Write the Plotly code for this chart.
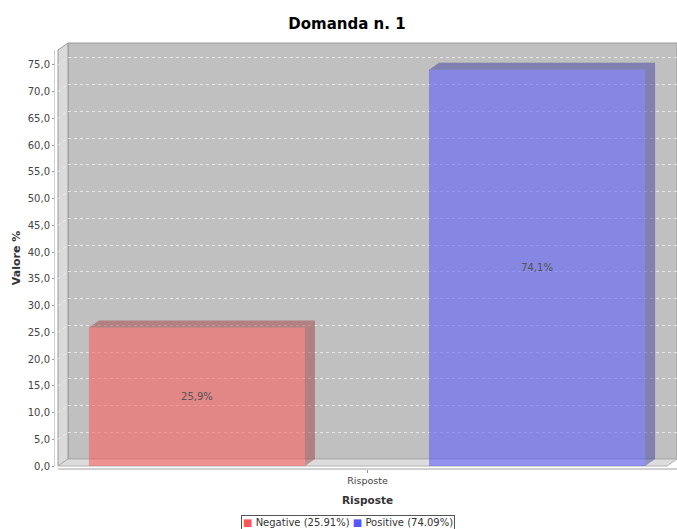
import plotly.graph_objects as go

# ---------------- data ----------------
categories = ["Risposte"]
series_names = ["Negative", "Positive"]
series_values = [25.91, 74.09]
y_tick_values = [0, 5, 10, 15, 20, 25, 30, 35, 40, 45, 50, 55, 60, 65, 70, 75]

# ---------------- styling / geometry ----------------
W, H = 677, 529
base_colors = ["#ff5555", "#5555ff"]
front_colors = ["rgba(255,85,85,0.55)", "rgba(85,85,255,0.55)"]
face_colors = ["rgba(160,50,50,0.45)", "rgba(50,50,160,0.45)"]
bar_offsets = [-0.45, 0.0994]
bar_width = 0.349
Y_MAX = 77.8
GRID = "rgba(255,255,255,0.6)"

FRONT_L, FRONT_TOP, FRONT_BOT = 58, 50, 466
DX, DY = 10, 7  # 3D depth in pixels


def pxx(p):
    return p / W


def pxy(p):
    return 1 - p / H


dx_val = DX / (W - FRONT_L)          # x range spans 1 unit over front width
dy_val = DY * Y_MAX / (FRONT_BOT - FRONT_TOP)

FONT = "DejaVu Sans"
fig = go.Figure()

# invisible trace to create back (wall) subplot
fig.add_trace(go.Scatter(x=[None], y=[None], xaxis="x", yaxis="y",
                         showlegend=False, hoverinfo="skip"))

# front faces of bars
for i, (name, val) in enumerate(zip(series_names, series_values)):
    fig.add_trace(go.Bar(
        x=[0], y=[val], xaxis="x2", yaxis="y2",
        width=[bar_width], offset=[bar_offsets[i]],
        marker=dict(color=front_colors[i], line=dict(width=0)),
        texttemplate="%{y:.1f}%", textposition="inside",
        insidetextanchor="middle", textangle=0, constraintext="none",
        textfont=dict(family=FONT, size=10, color="#555555"),
        showlegend=False, hoverinfo="skip", name=name,
    ))

# 3D top and side faces
for i, val in enumerate(series_values):
    xl = bar_offsets[i]
    xr = xl + bar_width
    side_x = [xr, xr, xr + dx_val, xr + dx_val, xr]
    side_y = [0, val, val + dy_val, dy_val, 0]
    top_x = [xl, xr, xr + dx_val, xl + dx_val, xl]
    top_y = [val, val, val + dy_val, val + dy_val, val]
    for fx, fy in ((side_x, side_y), (top_x, top_y)):
        fig.add_trace(go.Scatter(
            x=fx, y=fy, xaxis="x2", yaxis="y2", mode="lines",
            fill="toself", fillcolor=face_colors[i],
            line=dict(width=0), showlegend=False, hoverinfo="skip",
        ))

# legend (boxed text built from the series)
legend_parts = []
for i, (name, val) in enumerate(zip(series_names, series_values)):
    legend_parts.append(
        f"<span style='color:{base_colors[i]}'>■</span> {name} ({val:.2f}%)")
legend_text = " ".join(legend_parts)

# walls
shapes = []
# back wall
shapes.append(dict(type="rect", xref="paper", yref="paper",
                   x0=pxx(FRONT_L + DX), x1=1.0,
                   y0=pxy(FRONT_BOT - DY), y1=pxy(FRONT_TOP - DY),
                   fillcolor="#c0c0c0", line=dict(color="#9a9a9a", width=1),
                   layer="below"))
# left wall
shapes.append(dict(type="path", xref="paper", yref="paper",
                   path=(f"M {pxx(FRONT_L)},{pxy(FRONT_BOT)} "
                         f"L {pxx(FRONT_L)},{pxy(FRONT_TOP)} "
                         f"L {pxx(FRONT_L + DX)},{pxy(FRONT_TOP - DY)} "
                         f"L {pxx(FRONT_L + DX)},{pxy(FRONT_BOT - DY)} Z"),
                   fillcolor="#dadada", line=dict(color="#9a9a9a", width=1),
                   layer="below"))
# floor
shapes.append(dict(type="path", xref="paper", yref="paper",
                   path=(f"M {pxx(FRONT_L)},{pxy(FRONT_BOT)} "
                         f"L {pxx(W - DX)},{pxy(FRONT_BOT)} "
                         f"L {pxx(W)},{pxy(FRONT_BOT - DY)} "
                         f"L {pxx(FRONT_L + DX)},{pxy(FRONT_BOT - DY)} Z"),
                   fillcolor="#dcdcdc", line=dict(color="#b0b0b0", width=1),
                   layer="below"))
# gridlines on left wall
for v in y_tick_values[1:]:
    shapes.append(dict(type="line", xref="paper", yref="y2",
                       x0=pxx(FRONT_L), y0=v, x1=pxx(FRONT_L + DX), y1=v + dy_val,
                       line=dict(color=GRID, width=1, dash="dot"),
                       layer="below"))

fig.update_layout(
    width=W, height=H,
    margin=dict(l=0, r=0, t=0, b=0, autoexpand=False),
    paper_bgcolor="white", plot_bgcolor="rgba(0,0,0,0)",
    separators=",.",
    barmode="overlay",
    showlegend=False,
    font=dict(family=FONT, color="#444444"),
    title=dict(text="Domanda n. 1", x=pxx(347), xanchor="center",
               y=pxy(24), yanchor="middle", automargin=False,
               font=dict(family=FONT, size=15, color="#000000", weight="bold")),
    shapes=shapes,
    annotations=[dict(text=legend_text, xref="paper", yref="paper",
                      x=pxx(348), y=pxy(522), xanchor="center", yanchor="middle",
                      showarrow=False, bgcolor="white",
                      bordercolor="#555555", borderwidth=1, borderpad=1,
                      font=dict(family=FONT, size=10, color="#333333"))],
    xaxis=dict(domain=[pxx(FRONT_L + DX), 1], range=[-0.5, 0.5], anchor="y",
               visible=False, showgrid=False, zeroline=False, fixedrange=True,
               automargin=False),
    yaxis=dict(domain=[pxy(FRONT_BOT - DY), pxy(FRONT_TOP - DY)],
               range=[0, Y_MAX], anchor="x", tickvals=y_tick_values,
               showgrid=True, gridcolor=GRID, griddash="dot",
               gridwidth=1, showticklabels=False, ticks="", zeroline=False,
               showline=False, fixedrange=True, automargin=False),
    xaxis2=dict(domain=[pxx(FRONT_L), 1], range=[-0.5, 0.5],
                anchor="free", position=pxy(469),
                tickvals=[0], ticktext=categories,
                showgrid=False, zeroline=False,
                showline=True, linecolor="#d0d0d0", linewidth=2,
                ticks="outside", ticklen=3, tickcolor="#999999",
                tickfont=dict(family=FONT, size=9.5, color="#444444"),
                title=dict(text="Risposte", standoff=10,
                           font=dict(family=FONT, size=10.5, color="#333333",
                                     weight="bold")),
                fixedrange=True, automargin=False),
    yaxis2=dict(domain=[pxy(FRONT_BOT), pxy(FRONT_TOP)], range=[0, Y_MAX],
                anchor="free", position=pxx(54),
                tickvals=y_tick_values, tickformat=".1f",
                showgrid=False, zeroline=False,
                showline=True, linecolor="#d0d0d0", linewidth=1,
                ticks="outside", ticklen=2, tickcolor="#999999",
                tickfont=dict(family=FONT, size=10, color="#444444"),
                title=dict(text="Valore %", standoff=3,
                           font=dict(family=FONT, size=11, color="#333333",
                                     weight="bold")),
                fixedrange=True, automargin=False),
)

fig.write_html("out.html",
               config={"displayModeBar": False},
               post_script="document.body.style.margin='0px';"
                           "document.body.style.overflow='hidden';")
